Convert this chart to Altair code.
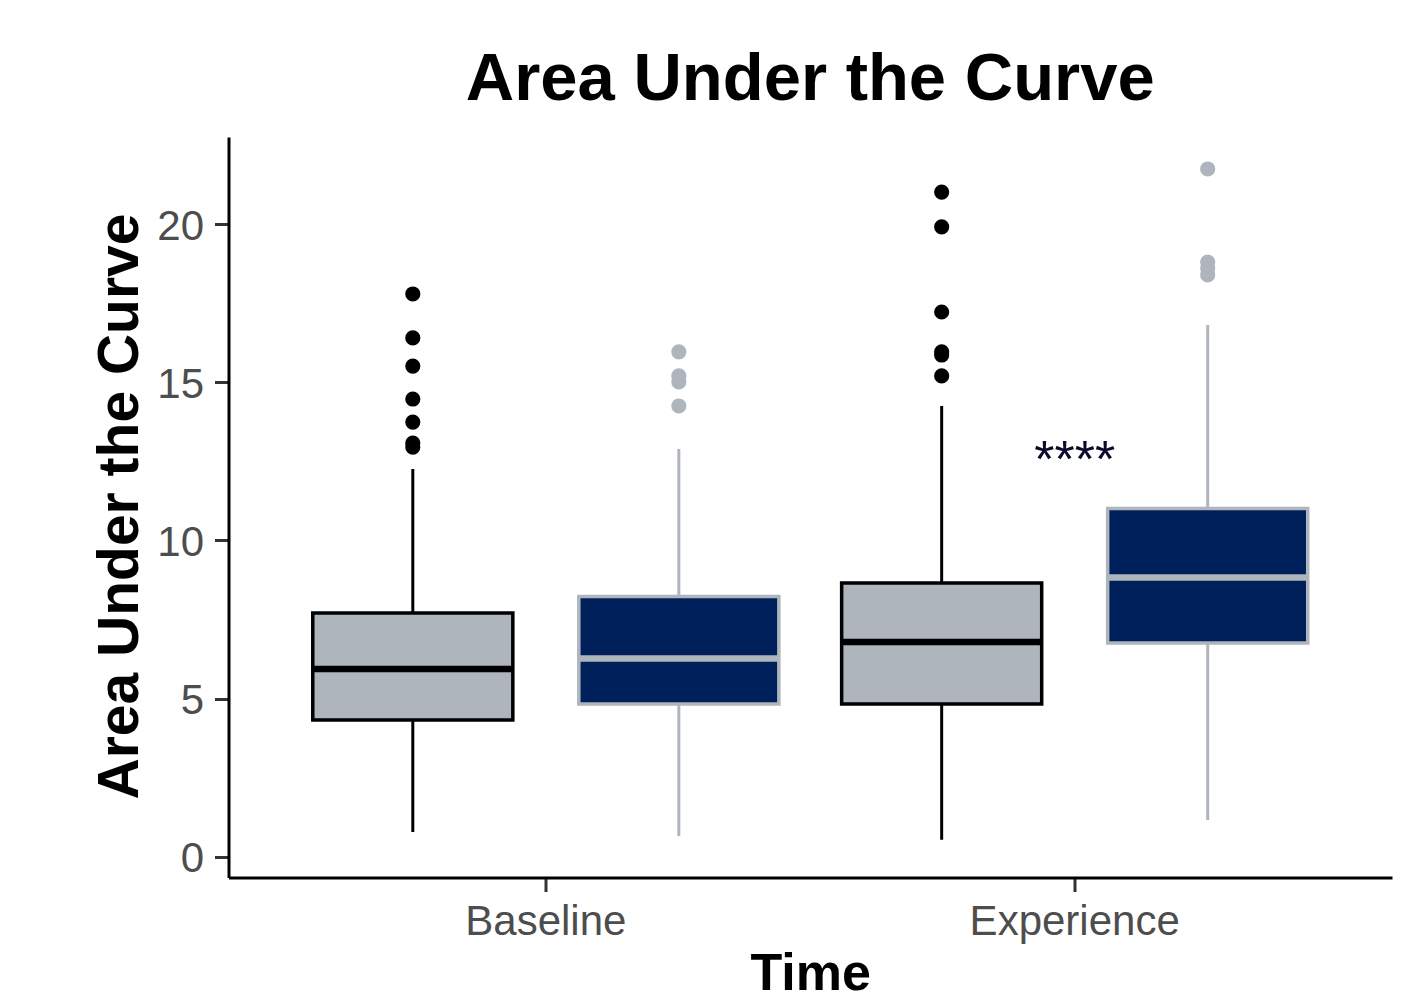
import altair as alt
import pandas as pd

# ---- data ----
times = ["Baseline", "Baseline", "Experience", "Experience"]
groups = ["Group 1", "Group 2", "Group 1", "Group 2"]
whisker_low = [0.79, 0.66, 0.54, 1.17]
q1 = [4.33, 4.83, 4.83, 6.76]
median = [5.94, 6.27, 6.79, 8.83]
q3 = [7.71, 8.23, 8.66, 11.01]
whisker_high = [12.26, 12.89, 14.25, 16.81]

out_time = ["Baseline"] * 7 + ["Baseline"] * 4 + ["Experience"] * 6 + ["Experience"] * 4
out_group = ["Group 1"] * 7 + ["Group 2"] * 4 + ["Group 1"] * 6 + ["Group 2"] * 4
out_value = [17.79, 16.40, 15.51, 14.47, 13.74, 13.08, 12.95,
             15.96, 15.20, 15.01, 14.25,
             21.01, 19.91, 17.22, 15.96, 15.86, 15.20,
             21.74, 18.80, 18.61, 18.39]

ann_time = ["Experience"]
ann_y = [12.0]
ann_label = ["****"]

time_order = ["Baseline", "Experience"]
group_order = ["Group 1", "Group 2"]
fill_colors = ["#AFB5BC", "#00205B"]
line_colors = ["#000000", "#AFB5BC"]

box_df = pd.DataFrame({"Time": times, "Group": groups, "low": whisker_low, "q1": q1,
                       "median": median, "q3": q3, "high": whisker_high})
out_df = pd.DataFrame({"Time": out_time, "Group": out_group, "value": out_value})
ann_df = pd.DataFrame({"Time": ann_time, "y": ann_y, "label": ann_label})

FONT = "Liberation Sans"

x_axis = alt.Axis(labelAngle=0, labelFontSize=42, labelColor="#4D4D4D", labelFont=FONT,
                  labelPadding=10, labelLimit=500, tickSize=14, tickWidth=3, tickColor="#333333",
                  domainColor="black", domainWidth=3, grid=False,
                  titleFontSize=52, titleFont=FONT, titleFontWeight="bold", titleColor="black",
                  titleX=581.75, titleY=112, titleAlign="center", titleBaseline="alphabetic")
y_axis = alt.Axis(values=[0, 5, 10, 15, 20], labelFontSize=42, labelColor="#4D4D4D", labelFont=FONT,
                  labelPadding=11, labelOffset=2, tickSize=14, tickWidth=3, tickColor="#333333",
                  domainColor="black", domainWidth=3, grid=False,
                  titleFontSize=57, titleFont=FONT, titleFontWeight="bold", titleColor="black",
                  titleAngle=270, titleX=-91.5, titleY=369, titleAlign="center",
                  titleBaseline="alphabetic")

x_enc = alt.X("Time:N", scale=alt.Scale(domain=time_order, paddingInner=0, paddingOuter=0.1),
              axis=x_axis, title="Time")
xo_enc = alt.XOffset("Group:N", scale=alt.Scale(domain=group_order, paddingInner=0.248,
                                                 paddingOuter=0.118))
y_scale = alt.Scale(domain=[-0.65, 22.75], nice=False, zero=False)
YT = "Area Under the Curve"

fill_scale = alt.Scale(domain=group_order, range=fill_colors)
line_scale = alt.Scale(domain=group_order, range=line_colors)

whiskers = alt.Chart(box_df).mark_rule(strokeWidth=3).encode(
    x=x_enc, xOffset=xo_enc,
    y=alt.Y("low:Q", scale=y_scale, axis=y_axis, title=YT),
    y2="high:Q",
    color=alt.Color("Group:N", scale=line_scale, legend=None),
)

boxes = alt.Chart(box_df).mark_rect(strokeWidth=3.5).encode(
    x=x_enc, xOffset=xo_enc,
    y=alt.Y("q1:Q", scale=y_scale, axis=y_axis, title=YT),
    y2="q3:Q",
    fill=alt.Fill("Group:N", scale=fill_scale, legend=None),
    stroke=alt.Stroke("Group:N", scale=line_scale, legend=None),
)

medians = alt.Chart(box_df).mark_rect(strokeWidth=6.5, fillOpacity=0).encode(
    x=x_enc, xOffset=xo_enc,
    y=alt.Y("median:Q", scale=y_scale, axis=y_axis, title=YT),
    y2="median:Q",
    stroke=alt.Stroke("Group:N", scale=line_scale, legend=None),
)

outliers = alt.Chart(out_df).mark_circle(size=230, opacity=1).encode(
    x=x_enc, xOffset=xo_enc,
    y=alt.Y("value:Q", scale=y_scale, axis=y_axis, title=YT),
    color=alt.Color("Group:N", scale=line_scale, legend=None),
)

annot = alt.Chart(ann_df).mark_text(fontSize=52, font=FONT, color="#0A0A2A",
                                    baseline="alphabetic", align="center").encode(
    x=x_enc,
    y=alt.Y("y:Q", scale=y_scale, axis=y_axis, title=YT),
    text="label:N",
)

chart = alt.layer(whiskers, boxes, medians, outliers, annot).properties(
    width=1163.5, height=740.5,
    autosize=alt.AutoSizeParams(type="none"),
    padding={"left": 220.5, "top": 129, "right": 2, "bottom": 119.5},
    title=alt.TitleParams("Area Under the Curve", fontSize=67, font=FONT, fontWeight="bold",
                          color="black", anchor="middle", frame="group", offset=23,
                          baseline="alphabetic", dy=53),
).configure(background="white").configure_view(stroke=None)

chart.save("out.html", embed_options={"renderer": "svg", "actions": False})
